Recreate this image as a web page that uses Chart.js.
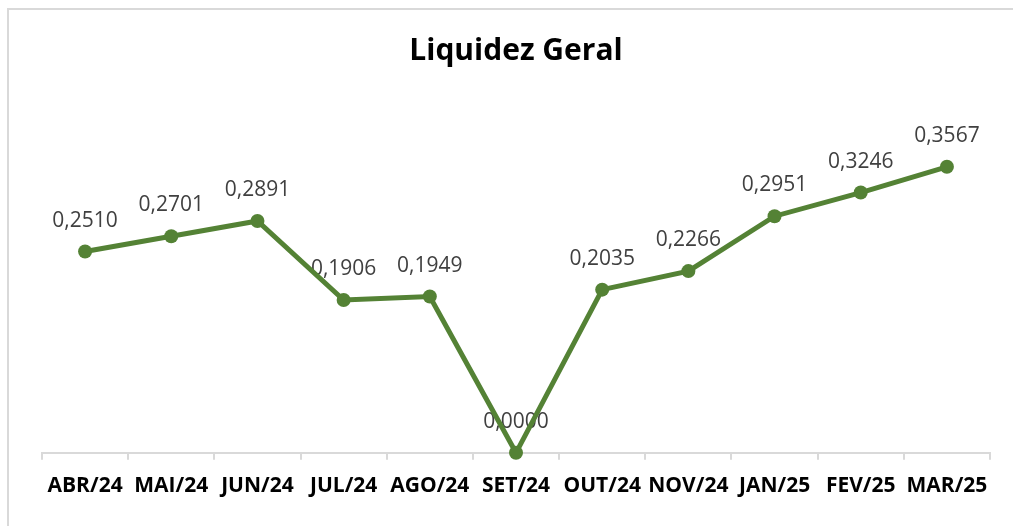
<!DOCTYPE html>
<html>
<head>
<meta charset="utf-8">
<script src="https://cdn.jsdelivr.net/npm/chart.js@4"></script>
<style>
  html, body { margin: 0; padding: 0; background: #fff; }
  #wrap { width: 1013px; height: 526px; position: relative; }
</style>
</head>
<body>
<div id="wrap"><canvas id="chart" width="1013" height="526"></canvas></div>
<script>
const months = ["ABR/24", "MAI/24", "JUN/24", "JUL/24", "AGO/24", "SET/24", "OUT/24", "NOV/24", "JAN/25", "FEV/25", "MAR/25"];
const liquidez = [0.2510, 0.2701, 0.2891, 0.1906, 0.1949, 0.0000, 0.2035, 0.2266, 0.2951, 0.3246, 0.3567];

const green = "#548235";

// outer frame like the spreadsheet chart box
const framePlugin = {
  id: "frame",
  beforeDraw(chart) {
    const ctx = chart.ctx;
    ctx.save();
    ctx.fillStyle = "#fff";
    ctx.fillRect(0, 0, chart.width, chart.height);
    ctx.strokeStyle = "#d9d9d9";
    ctx.lineWidth = 2;
    ctx.strokeRect(8, 9, 1100, 700);
    ctx.restore();
  }
};

// value labels above each point, comma decimals (drawn under the line)
const labelPlugin = {
  id: "valueLabels",
  beforeDatasetsDraw(chart) {
    const ctx = chart.ctx;
    const meta = chart.getDatasetMeta(0);
    ctx.save();
    ctx.font = "21px 'Open Sans'";
    ctx.fillStyle = "#404040";
    ctx.textAlign = "center";
    ctx.textBaseline = "middle";
    meta.data.forEach((pt, i) => {
      const txt = liquidez[i].toFixed(4).replace(".", ",");
      ctx.fillText(txt, pt.x, pt.y - 31);
    });
    ctx.restore();
  }
};

new Chart(document.getElementById("chart"), {
  type: "line",
  data: {
    labels: months,
    datasets: [{
      data: liquidez,
      borderColor: green,
      backgroundColor: green,
      borderWidth: 5,
      pointRadius: 7,
      pointHoverRadius: 7,
      pointBorderWidth: 0,
      tension: 0,
      clip: false
    }]
  },
  options: {
    responsive: false,
    animation: false,
    events: [],
    layout: { padding: { top: 22, left: 42, right: 23, bottom: 13 } },
    plugins: {
      legend: { display: false },
      tooltip: { enabled: false },
      title: {
        display: true,
        text: "Liquidez Geral",
        color: "#000",
        font: { family: "'Open Sans'", size: 30, weight: "bold", lineHeight: 1.2 },
        padding: { top: 11, bottom: 23 }
      }
    },
    scales: {
      x: {
        offset: true,
        grid: {
          offset: true,
          drawOnChartArea: false,
          drawTicks: true,
          tickLength: 7,
          color: "#d9d9d9",
          lineWidth: 2
        },
        border: { display: true, color: "#d9d9d9", width: 2 },
        ticks: {
          color: "#000",
          padding: 14,
          maxRotation: 0,
          autoSkip: false,
          font: { family: "'Open Sans'", size: 21, weight: "bold" }
        }
      },
      y: {
        display: false,
        min: 0,
        max: 0.45
      }
    }
  },
  plugins: [framePlugin, labelPlugin]
});
</script>
</body>
</html>
